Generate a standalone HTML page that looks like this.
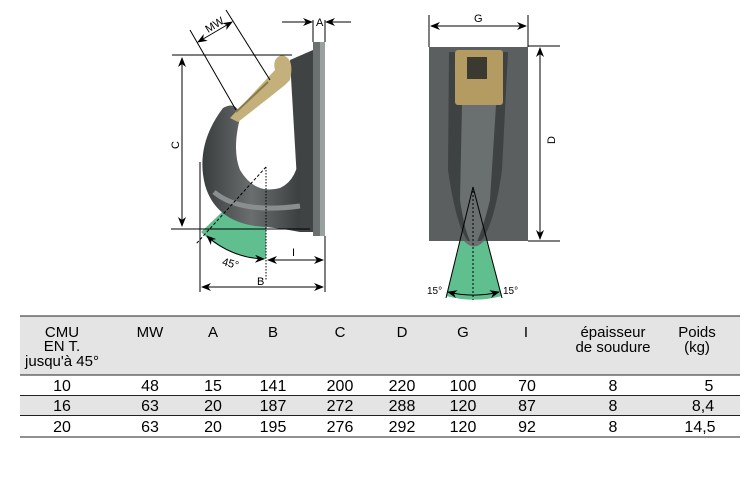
<!DOCTYPE html>
<html><head><meta charset="utf-8"><style>
body{margin:0;background:#fff;width:750px;height:500px;overflow:hidden;font-family:"Liberation Sans",sans-serif;}
svg{position:absolute;left:0;top:0}
</style></head><body>
<svg width="750" height="500" viewBox="0 0 750 500" xmlns="http://www.w3.org/2000/svg">
<defs>
<marker id="ar" markerWidth="10" markerHeight="8" refX="9" refY="4" orient="auto-start-reverse" markerUnits="userSpaceOnUse"><path d="M0,0 L10,4 L0,8 L3,4z" fill="#000"/></marker>
<linearGradient id="mg" x1="0" x2="1"><stop offset="0" stop-color="#3a3d3d"/><stop offset=".5" stop-color="#6a6e6e"/><stop offset="1" stop-color="#3c3f3f"/></linearGradient>
<clipPath id="below"><rect x="400" y="241" width="150" height="80"/></clipPath>
</defs>
<!-- LEFT: green sector (annulus) -->
<path d="M266,225 L266,259 A92,92 0 0 1 201,232 L222,212 A62,62 0 0 0 266,225 Z" fill="#5fbf8f"/>
<!-- plate -->
<rect x="313" y="42" width="12" height="194" fill="#6b7070"/>
<rect x="320" y="42" width="5" height="194" fill="#9aa0a0"/>
<!-- shank -->
<path d="M290,60 L313,50 L313,232 L300,232 Z" fill="#3f4343"/>
<!-- hook body -->
<path d="M223,108 Q238,100 240,118 Q232,150 240,170 Q255,195 280,188 Q298,180 300,150 L300,232 Q280,228 255,226 Q215,220 205,185 Q195,145 223,108 Z" fill="url(#mg)"/>
<path d="M214,192 Q240,214 300,206" stroke="#8a8e8e" stroke-width="5" fill="none"/>
<!-- latch -->
<path d="M230,118 L275,70 Q272,58 282,55 Q295,58 290,80 L285,85 Q260,105 238,122 Z" fill="#c3b07a"/>
<path d="M236,112 L268,82" stroke="#8a7a4a" stroke-width="2"/>
<!-- dimension lines left -->
<g stroke="#000" stroke-width="1" fill="none">
<line x1="172" y1="55" x2="292" y2="55"/>
<line x1="182" y1="58" x2="182" y2="226" marker-start="url(#ar)" marker-end="url(#ar)"/>
<line x1="171" y1="229" x2="310" y2="229"/>
<line x1="313" y1="20" x2="313" y2="42"/><line x1="325" y1="20" x2="325" y2="42"/>
<line x1="282" y1="22" x2="312" y2="22" marker-end="url(#ar)"/>
<line x1="351" y1="22" x2="326" y2="22" marker-end="url(#ar)"/>
<line x1="190" y1="30" x2="236" y2="110"/>
<line x1="226" y1="10" x2="270" y2="80"/>
<line x1="198" y1="42" x2="232" y2="22" marker-start="url(#ar)" marker-end="url(#ar)"/>
<line x1="266" y1="167" x2="196" y2="244" stroke-dasharray="3,2"/>
<line x1="266" y1="167" x2="266" y2="280" stroke-dasharray="1.5,1.5"/>
<line x1="200" y1="162" x2="200" y2="292"/>
<line x1="325" y1="236" x2="325" y2="292"/>
<line x1="268" y1="260" x2="323" y2="260" marker-start="url(#ar)" marker-end="url(#ar)"/>
<line x1="202" y1="287" x2="323" y2="287" marker-start="url(#ar)" marker-end="url(#ar)"/>
<path d="M207,236 A88,88 0 0 0 264,259" marker-start="url(#ar)" marker-end="url(#ar)"/>
</g>
<g font-size="11" fill="#000">
<text x="316" y="26">A</text>
<text x="168" y="146" transform="rotate(-90 175 142)">C</text>
<text x="205" y="30" transform="rotate(-32 212 26)">MW</text>
<text x="292" y="256">I</text>
<text x="257" y="285">B</text>
<text x="222" y="267" transform="rotate(15 230 264)">45°</text>
</g>
<!-- RIGHT -->
<rect x="429" y="47" width="99" height="194" fill="#5b5f60"/>
<path d="M449,52 L508,52 L502,170 Q492,240 474,246 Q458,240 448,170 Z" fill="#3e4242"/>
<rect x="455" y="50" width="48" height="55" rx="3" fill="#b39b62"/>
<rect x="467" y="57" width="20" height="22" fill="#3a3a30"/>
<path d="M462,105 L496,105 L490,200 Q480,240 474,246 Q466,240 460,200 Z" fill="#6a6f70"/>
<path d="M473,187 L446,296 A110,110 0 0 0 502,296 Z" fill="#5fbf8f" clip-path="url(#below)"/>
<path d="M464,241 Q474,252 484,241 Z" fill="#6a6f70"/>
<g stroke="#000" stroke-width="1" fill="none">
<line x1="429" y1="15" x2="429" y2="47"/><line x1="528" y1="15" x2="528" y2="47"/>
<line x1="431" y1="26" x2="526" y2="26" marker-start="url(#ar)" marker-end="url(#ar)"/>
<line x1="528" y1="46" x2="560" y2="46"/><line x1="528" y1="241" x2="560" y2="241"/>
<line x1="540" y1="48" x2="540" y2="239" marker-start="url(#ar)" marker-end="url(#ar)"/>
<line x1="473" y1="187" x2="446" y2="298"/>
<line x1="473" y1="187" x2="502" y2="298"/>
<line x1="473" y1="187" x2="473" y2="300" stroke-dasharray="2,2"/>
<path d="M448,292 A108,108 0 0 0 499,292" marker-start="url(#ar)" marker-end="url(#ar)"/>
</g>
<g font-size="11" fill="#000">
<text x="474" y="22">G</text>
<text x="546" y="145" transform="rotate(-90 550 140)">D</text>
<text x="427" y="294" font-size="10">15°</text>
<text x="503" y="294" font-size="10">15°</text>
</g>
<!-- TABLE -->
<rect x="20" y="316" width="720" height="59" fill="#e4e4e4"/>
<rect x="20" y="396" width="720" height="19" fill="#e4e4e4"/>
<g stroke="#222" stroke-width="1">
<line x1="20" y1="316" x2="740" y2="316"/>
<line x1="20" y1="375" x2="740" y2="375"/>
<line x1="20" y1="395.5" x2="740" y2="395.5"/>
<line x1="20" y1="415.5" x2="740" y2="415.5"/>
<line x1="20" y1="437" x2="740" y2="437"/>
</g>
<g font-size="15" fill="#000" text-anchor="middle">
<text x="62" y="337">CMU</text><text x="62" y="351">EN T.</text><text x="62" y="366">jusqu'à 45°</text>
<text x="150" y="337">MW</text><text x="213" y="337">A</text><text x="273" y="337">B</text>
<text x="340" y="337">C</text><text x="402" y="337">D</text><text x="463" y="337">G</text><text x="526" y="337">I</text>
<text x="613" y="337">épaisseur</text><text x="613" y="352">de soudure</text>
<text x="697" y="337">Poids</text><text x="697" y="352">(kg)</text>
</g>
<g font-size="16" fill="#000" text-anchor="middle">
<text x="62" y="391">10</text><text x="150" y="391">48</text><text x="213" y="391">15</text><text x="273" y="391">141</text><text x="340" y="391">200</text><text x="402" y="391">220</text><text x="463" y="391">100</text><text x="527" y="391">70</text><text x="613" y="391">8</text><text x="709" y="391">5</text>
<text x="62" y="411">16</text><text x="150" y="411">63</text><text x="213" y="411">20</text><text x="273" y="411">187</text><text x="340" y="411">272</text><text x="402" y="411">288</text><text x="463" y="411">120</text><text x="527" y="411">87</text><text x="613" y="411">8</text><text x="703" y="411">8,4</text>
<text x="62" y="432">20</text><text x="150" y="432">63</text><text x="213" y="432">20</text><text x="273" y="432">195</text><text x="340" y="432">276</text><text x="402" y="432">292</text><text x="463" y="432">120</text><text x="527" y="432">92</text><text x="613" y="432">8</text><text x="700" y="432">14,5</text>
</g>
</svg>
</body></html>
